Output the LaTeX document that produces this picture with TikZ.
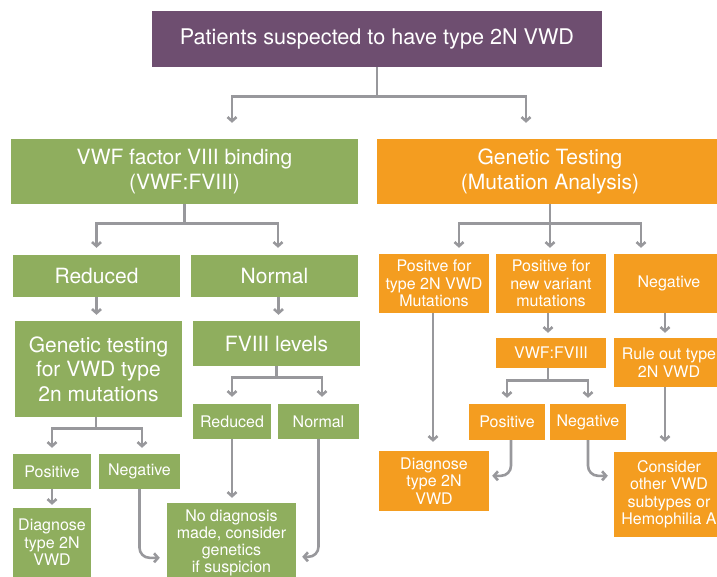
\documentclass[tikz,border=0pt]{standalone}
\usepackage{fontspec}
\setmainfont{TeX Gyre Heros}
\usetikzlibrary{positioning, arrows.meta}

\definecolor{vwdpurple}{RGB}{110,78,112}
\definecolor{vwdgreen}{RGB}{143,174,94}
\definecolor{vwdorange}{RGB}{244,157,32}
\definecolor{vwdgrey}{RGB}{152,152,156}

\begin{document}
\begin{tikzpicture}[x=1pt, y=-1pt,
    box/.style={rectangle, text=white, align=center, inner sep=0pt},
    gbox/.style={box, fill=vwdgreen},
    obox/.style={box, fill=vwdorange},
    big/.style={font=\fontsize{21}{24.5}\selectfont},
    small/.style={font=\fontsize{16}{17.5}\selectfont},
    arr/.style={draw=vwdgrey, line width=2.6pt, -{Straight Barb[length=4pt, width=9pt]}},
    curve/.style={arr, rounded corners=10pt}]
    \useasboundingbox (0,0) rectangle (717,576);
    \clip (0,0) rectangle (717,576);

    % top of the chart
    \node (top) [box, fill=vwdpurple, font=\fontsize{21.6}{25}\selectfont, minimum width=450pt, minimum height=56pt] at (377,39) {Patients suspected to have type 2N VWD};
    \node (vwf) [gbox, big, minimum width=347pt, minimum height=65pt] at (184.5,171.5) {VWF factor VIII binding\\(VWF:FVIII)};
    \node (gen) [obox, big, minimum width=346pt, minimum height=65pt] at (550,171.5) {Genetic Testing\\(Mutation Analysis)};

    % green branch
    \node (red1) [gbox, big, minimum width=167pt, minimum height=42pt] at (96.5,276) {Reduced};
    \node (norm1) [gbox, big, minimum width=167pt, minimum height=42pt] at (274.5,276) {Normal};
    \node (gtest) [gbox, big, minimum width=167pt, minimum height=96pt] at (98.5,369) {Genetic testing\\for VWD type\\2n mutations};
    \node (fviii) [gbox, big, minimum width=167pt, minimum height=45pt] at (276.5,343.5) {FVIII levels};
    \node (red2) [gbox, small, minimum width=78pt, minimum height=35pt] at (232,421.5) {Reduced};
    \node (norm2) [gbox, small, minimum width=81pt, minimum height=35pt] at (318.5,421.5) {Normal};
    \node (pos1) [gbox, small, minimum width=78pt, minimum height=35pt] at (52,471.5) {Positive};
    \node (neg1) [gbox, small, minimum width=81pt, minimum height=35pt] at (139.5,471.5) {Negative};
    \node (diag1) [gbox, small, minimum width=78pt, minimum height=69pt] at (52,542.5) {Diagnose\\type 2N\\VWD};
    \node (nodiag) [gbox, font=\fontsize{16}{17}\selectfont, minimum width=129pt, minimum height=80pt] at (231.5,543) {No diagnosis\\made, consider\\genetics\\if suspicion};

    % orange branch
    \node (posA) [obox, small, minimum width=110pt, minimum height=59pt] at (434,283.5) {Positve for\\type 2N VWD\\Mutations};
    \node (posB) [obox, small, minimum width=110pt, minimum height=59pt] at (551,283.5) {Positive for\\new variant\\mutations};
    \node (negA) [obox, small, minimum width=110pt, minimum height=59pt] at (669,283.5) {Negative};
    \node (vwf2) [obox, small, minimum width=110pt, minimum height=30pt] at (551,353) {VWF:FVIII};
    \node (rule) [obox, small, minimum width=110pt, minimum height=49pt] at (669,362.5) {Rule out type\\2N VWD};
    \node (pos2) [obox, small, minimum width=76pt, minimum height=36pt] at (507,422) {Positive};
    \node (neg2) [obox, small, minimum width=76pt, minimum height=36pt] at (588,422) {Negative};
    \node (diag2) [obox, small, minimum width=110pt, minimum height=60pt] at (434,481) {Diagnose\\type 2N\\VWD};
    \node (consider) [obox, small, minimum width=110pt, minimum height=85pt] at (669,494.5) {Consider\\other VWD\\subtypes or\\Hemophilia A};

    % connectors
    \draw [arr, shorten >=16pt] (top.south) -- ++(0,29) -| ([xshift=47.5pt]vwf.north);
    \draw [arr, shorten >=16pt] (top.south) -- ++(0,29) -| ([xshift=-24pt]gen.north);

    \draw [arr, shorten >=7pt] (vwf.south) -- ++(0,19) -| (red1.north);
    \draw [arr, shorten >=7pt] (vwf.south) -- ++(0,19) -| ([xshift=3.5pt]norm1.north);
    \draw [arr, shorten >=6pt] (red1.south) -- (red1.south |- gtest.north);
    \draw [arr, shorten >=6pt] ([xshift=4pt]norm1.south) -- ([xshift=4pt]norm1.south |- fviii.north);
    \draw [arr, shorten >=7pt] (fviii.south) -- ++(0,11) -| (red2.north);
    \draw [arr, shorten >=7pt] (fviii.south) -- ++(0,11) -| ([xshift=3.5pt]norm2.north);
    \draw [arr, shorten >=6pt] ([xshift=-2.5pt]gtest.south) -- ++(0,11) -| (pos1.north);
    \draw [arr, shorten >=6pt] ([xshift=-2.5pt]gtest.south) -- ++(0,11) -| ([xshift=2.5pt]neg1.north);
    \draw [arr, shorten >=3pt] (pos1.south) -- (diag1.north);
    \draw [arr, shorten >=5pt] (red2.south) -- (red2.south |- nodiag.north);
    \draw [curve, shorten >=7pt] (neg1.south) |- ([yshift=-55pt]nodiag.north west);
    \draw [curve, shorten >=6pt] (norm2.south) |- ([yshift=-54pt]nodiag.north east);

    \draw [arr, shorten >=6pt] (gen.south) -- ++(0,19) -| ([xshift=25pt]posA.north);
    \draw [arr, shorten >=6pt] (gen.south) -- (gen.south |- posB.north);
    \draw [arr, shorten >=6pt] (gen.south) -- ++(0,19) -| ([xshift=-28pt]negA.north);
    \draw [arr, shorten >=9pt] ([xshift=-1pt]posA.south) -- ([xshift=-1pt]posA.south |- diag2.north);
    \draw [arr, shorten >=5pt] ([xshift=-3pt]posB.south) -- ([xshift=-3pt]posB.south |- vwf2.north);
    \draw [arr, shorten >=5pt] ([xshift=-4pt]negA.south) -- ([xshift=-4pt]negA.south |- rule.north);
    \draw [arr, shorten >=6pt] ([xshift=-3pt]vwf2.south) -- ++(0,12) -| (pos2.north);
    \draw [arr, shorten >=6pt] ([xshift=-3pt]vwf2.south) -- ++(0,12) -| (neg2.north);
    \draw [arr, shorten >=10pt] ([xshift=-4pt]rule.south) -- ([xshift=-4pt]rule.south |- consider.north);
    \draw [curve, shorten >=3pt] ([xshift=4pt]pos2.south) |- ([yshift=-25pt]diag2.north east);
    \draw [curve, shorten >=6pt] (neg2.south) |- ([yshift=-24pt]consider.north west);
\end{tikzpicture}
\end{document}
